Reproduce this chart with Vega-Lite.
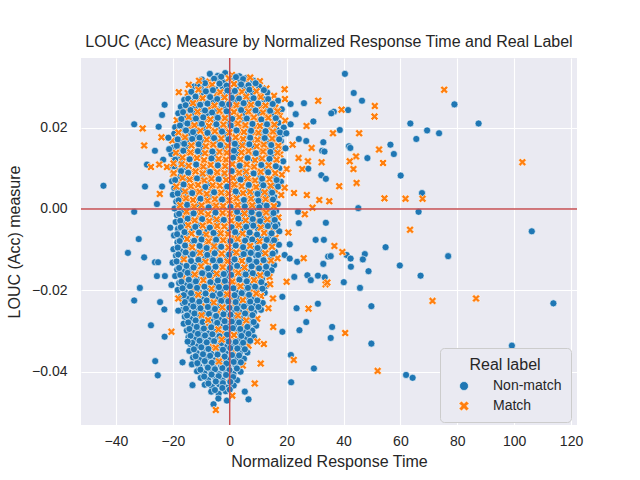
{
"$schema": "https://vega.github.io/schema/vega-lite/v6.json",
"width": 496, "height": 367,
"autosize": {"type": "none"},
"padding": {"left": 81, "top": 58, "right": 63, "bottom": 55},
"background": "white",
"title": {"text": "LOUC (Acc) Measure by Normalized Response Time and Real Label", "fontSize": 16, "font": "Liberation Sans", "fontWeight": "normal", "color": "#262626", "offset": 7},
"config": {
  "view": {"fill": "#eaeaf2", "stroke": null},
  "axis": {"domain": false, "ticks": false, "gridColor": "white", "gridWidth": 1.1, "labelFont": "Liberation Sans", "labelFontSize": 14, "labelColor": "#262626", "titleFont": "Liberation Sans", "titleFontSize": 16, "titleFontWeight": "normal", "titleColor": "#262626"},
  "legend": {"orient": "none", "legendX": 359, "legendY": 290, "fillColor": "#eaeaf2", "strokeColor": "#cccccc", "cornerRadius": 4, "padding": 9, "titleFont": "Liberation Sans", "titleFontSize": 16, "titleFontWeight": "normal", "titleColor": "#262626", "titleAnchor": "middle", "titlePadding": 6, "labelFont": "Liberation Sans", "labelFontSize": 14, "labelColor": "#262626", "symbolSize": 80, "symbolStrokeColor": "white", "symbolStrokeWidth": 0.6, "rowPadding": 6, "labelOffset": 22, "symbolOffset": 8}
},
"datasets": {
"refs": [{"ref": 0}],
"points": [
{"t":-7.0,"v":0.0332,"label":"Non-match"},{"t":-4.2,"v":0.0327,"label":"Non-match"},{"t":-1.6,"v":0.0334,"label":"Non-match"},{"t":0.8,"v":0.0329,"label":"Match"},{"t":3.4,"v":0.0326,"label":"Non-match"},{"t":5.9,"v":0.0322,"label":"Non-match"},
{"t":-9.8,"v":0.0318,"label":"Non-match"},{"t":-7.2,"v":0.0313,"label":"Match"},{"t":-4.6,"v":0.0319,"label":"Non-match"},{"t":-2.0,"v":0.0311,"label":"Non-match"},{"t":0.6,"v":0.0316,"label":"Non-match"},{"t":3.1,"v":0.0312,"label":"Non-match"},{"t":5.7,"v":0.0317,"label":"Match"},{"t":8.3,"v":0.0315,"label":"Non-match"},{"t":10.6,"v":0.0314,"label":"Match"},
{"t":-12.6,"v":0.0301,"label":"Non-match"},{"t":-10.1,"v":0.0296,"label":"Non-match"},{"t":-7.5,"v":0.0302,"label":"Match"},{"t":-5.0,"v":0.0294,"label":"Non-match"},{"t":-2.4,"v":0.0299,"label":"Non-match"},{"t":0.1,"v":0.0295,"label":"Match"},{"t":2.7,"v":0.0300,"label":"Non-match"},{"t":5.2,"v":0.0298,"label":"Non-match"},{"t":7.8,"v":0.0297,"label":"Match"},{"t":10.3,"v":0.0301,"label":"Non-match"},{"t":12.9,"v":0.0296,"label":"Match"},
{"t":-14.8,"v":0.0285,"label":"Match"},{"t":-12.3,"v":0.0280,"label":"Non-match"},{"t":-9.7,"v":0.0286,"label":"Non-match"},{"t":-7.2,"v":0.0278,"label":"Non-match"},{"t":-4.6,"v":0.0283,"label":"Match"},{"t":-2.1,"v":0.0279,"label":"Non-match"},{"t":0.5,"v":0.0284,"label":"Non-match"},{"t":3.0,"v":0.0282,"label":"Match"},{"t":5.6,"v":0.0281,"label":"Non-match"},{"t":8.1,"v":0.0285,"label":"Non-match"},{"t":10.7,"v":0.0280,"label":"Match"},{"t":13.2,"v":0.0286,"label":"Non-match"},{"t":15.6,"v":0.0278,"label":"Match"},
{"t":-16.0,"v":0.0268,"label":"Non-match"},{"t":-13.4,"v":0.0263,"label":"Non-match"},{"t":-10.9,"v":0.0269,"label":"Match"},{"t":-8.3,"v":0.0261,"label":"Non-match"},{"t":-5.8,"v":0.0266,"label":"Non-match"},{"t":-3.2,"v":0.0262,"label":"Non-match"},{"t":-0.7,"v":0.0267,"label":"Match"},{"t":1.9,"v":0.0265,"label":"Non-match"},{"t":4.4,"v":0.0264,"label":"Match"},{"t":7.0,"v":0.0268,"label":"Non-match"},{"t":9.5,"v":0.0263,"label":"Match"},{"t":12.1,"v":0.0269,"label":"Non-match"},{"t":14.6,"v":0.0261,"label":"Match"},{"t":17.0,"v":0.0266,"label":"Non-match"},
{"t":-17.2,"v":0.0251,"label":"Non-match"},{"t":-14.6,"v":0.0246,"label":"Match"},{"t":-12.1,"v":0.0252,"label":"Non-match"},{"t":-9.5,"v":0.0244,"label":"Non-match"},{"t":-7.0,"v":0.0249,"label":"Match"},{"t":-4.4,"v":0.0245,"label":"Non-match"},{"t":-1.9,"v":0.0250,"label":"Non-match"},{"t":0.7,"v":0.0248,"label":"Match"},{"t":3.2,"v":0.0247,"label":"Non-match"},{"t":5.8,"v":0.0251,"label":"Match"},{"t":8.3,"v":0.0246,"label":"Non-match"},{"t":10.9,"v":0.0252,"label":"Match"},{"t":13.4,"v":0.0244,"label":"Non-match"},{"t":16.0,"v":0.0249,"label":"Match"},{"t":18.3,"v":0.0245,"label":"Non-match"},
{"t":-18.1,"v":0.0235,"label":"Non-match"},{"t":-15.5,"v":0.0230,"label":"Non-match"},{"t":-13.0,"v":0.0236,"label":"Non-match"},{"t":-10.4,"v":0.0228,"label":"Match"},{"t":-7.9,"v":0.0233,"label":"Non-match"},{"t":-5.3,"v":0.0229,"label":"Non-match"},{"t":-2.8,"v":0.0234,"label":"Match"},{"t":-0.2,"v":0.0232,"label":"Non-match"},{"t":2.3,"v":0.0231,"label":"Match"},{"t":4.9,"v":0.0235,"label":"Non-match"},{"t":7.4,"v":0.0230,"label":"Match"},{"t":10.0,"v":0.0236,"label":"Non-match"},{"t":12.5,"v":0.0228,"label":"Match"},{"t":15.1,"v":0.0233,"label":"Non-match"},{"t":17.6,"v":0.0229,"label":"Match"},
{"t":-18.6,"v":0.0218,"label":"Match"},{"t":-16.0,"v":0.0213,"label":"Non-match"},{"t":-13.5,"v":0.0219,"label":"Non-match"},{"t":-10.9,"v":0.0211,"label":"Non-match"},{"t":-8.4,"v":0.0216,"label":"Match"},{"t":-5.8,"v":0.0212,"label":"Non-match"},{"t":-3.3,"v":0.0217,"label":"Match"},{"t":-0.7,"v":0.0215,"label":"Non-match"},{"t":1.8,"v":0.0214,"label":"Match"},{"t":4.4,"v":0.0218,"label":"Non-match"},{"t":6.9,"v":0.0213,"label":"Match"},{"t":9.5,"v":0.0219,"label":"Match"},{"t":12.0,"v":0.0211,"label":"Non-match"},{"t":14.6,"v":0.0216,"label":"Match"},{"t":17.1,"v":0.0212,"label":"Non-match"},{"t":19.5,"v":0.0217,"label":"Match"},
{"t":-19.2,"v":0.0201,"label":"Non-match"},{"t":-16.6,"v":0.0196,"label":"Non-match"},{"t":-14.1,"v":0.0202,"label":"Match"},{"t":-11.5,"v":0.0194,"label":"Non-match"},{"t":-9.0,"v":0.0199,"label":"Non-match"},{"t":-6.4,"v":0.0195,"label":"Match"},{"t":-3.9,"v":0.0200,"label":"Non-match"},{"t":-1.3,"v":0.0198,"label":"Match"},{"t":1.2,"v":0.0197,"label":"Non-match"},{"t":3.8,"v":0.0201,"label":"Match"},{"t":6.3,"v":0.0196,"label":"Non-match"},{"t":8.9,"v":0.0202,"label":"Match"},{"t":11.4,"v":0.0194,"label":"Non-match"},{"t":14.0,"v":0.0199,"label":"Match"},{"t":16.5,"v":0.0195,"label":"Non-match"},{"t":19.0,"v":0.0200,"label":"Non-match"},
{"t":-19.5,"v":0.0185,"label":"Non-match"},{"t":-16.9,"v":0.0180,"label":"Match"},{"t":-14.4,"v":0.0186,"label":"Non-match"},{"t":-11.8,"v":0.0178,"label":"Non-match"},{"t":-9.3,"v":0.0183,"label":"Match"},{"t":-6.7,"v":0.0179,"label":"Non-match"},{"t":-4.2,"v":0.0184,"label":"Match"},{"t":-1.6,"v":0.0182,"label":"Non-match"},{"t":0.9,"v":0.0181,"label":"Match"},{"t":3.5,"v":0.0185,"label":"Match"},{"t":6.0,"v":0.0180,"label":"Non-match"},{"t":8.6,"v":0.0186,"label":"Match"},{"t":11.1,"v":0.0178,"label":"Non-match"},{"t":13.7,"v":0.0183,"label":"Match"},{"t":16.2,"v":0.0179,"label":"Match"},{"t":18.6,"v":0.0184,"label":"Non-match"},
{"t":-20.2,"v":0.0168,"label":"Match"},{"t":-17.6,"v":0.0163,"label":"Non-match"},{"t":-15.1,"v":0.0169,"label":"Non-match"},{"t":-12.5,"v":0.0161,"label":"Match"},{"t":-10.0,"v":0.0166,"label":"Non-match"},{"t":-7.4,"v":0.0162,"label":"Match"},{"t":-4.9,"v":0.0167,"label":"Non-match"},{"t":-2.3,"v":0.0165,"label":"Match"},{"t":0.2,"v":0.0164,"label":"Non-match"},{"t":2.8,"v":0.0168,"label":"Match"},{"t":5.3,"v":0.0163,"label":"Non-match"},{"t":7.9,"v":0.0169,"label":"Match"},{"t":10.4,"v":0.0161,"label":"Match"},{"t":13.0,"v":0.0166,"label":"Non-match"},{"t":15.5,"v":0.0162,"label":"Match"},{"t":18.0,"v":0.0167,"label":"Non-match"},
{"t":-19.8,"v":0.0151,"label":"Non-match"},{"t":-17.2,"v":0.0146,"label":"Match"},{"t":-14.7,"v":0.0152,"label":"Non-match"},{"t":-12.1,"v":0.0144,"label":"Match"},{"t":-9.6,"v":0.0149,"label":"Non-match"},{"t":-7.0,"v":0.0145,"label":"Match"},{"t":-4.5,"v":0.0150,"label":"Match"},{"t":-1.9,"v":0.0148,"label":"Non-match"},{"t":0.6,"v":0.0147,"label":"Match"},{"t":3.2,"v":0.0151,"label":"Non-match"},{"t":5.7,"v":0.0146,"label":"Match"},{"t":8.3,"v":0.0152,"label":"Non-match"},{"t":10.8,"v":0.0144,"label":"Match"},{"t":13.4,"v":0.0149,"label":"Match"},{"t":15.9,"v":0.0145,"label":"Non-match"},{"t":18.3,"v":0.0150,"label":"Match"},
{"t":-20.5,"v":0.0135,"label":"Non-match"},{"t":-17.9,"v":0.0130,"label":"Non-match"},{"t":-15.4,"v":0.0136,"label":"Match"},{"t":-12.8,"v":0.0128,"label":"Match"},{"t":-10.3,"v":0.0133,"label":"Non-match"},{"t":-7.7,"v":0.0129,"label":"Match"},{"t":-5.2,"v":0.0134,"label":"Non-match"},{"t":-2.6,"v":0.0132,"label":"Match"},{"t":-0.1,"v":0.0131,"label":"Match"},{"t":2.5,"v":0.0135,"label":"Non-match"},{"t":5.0,"v":0.0130,"label":"Match"},{"t":7.6,"v":0.0136,"label":"Match"},{"t":10.1,"v":0.0128,"label":"Non-match"},{"t":12.7,"v":0.0133,"label":"Match"},{"t":15.2,"v":0.0129,"label":"Non-match"},{"t":17.7,"v":0.0134,"label":"Match"},
{"t":-19.6,"v":0.0118,"label":"Match"},{"t":-17.0,"v":0.0113,"label":"Non-match"},{"t":-14.5,"v":0.0119,"label":"Match"},{"t":-11.9,"v":0.0111,"label":"Non-match"},{"t":-9.4,"v":0.0116,"label":"Match"},{"t":-6.8,"v":0.0112,"label":"Match"},{"t":-4.3,"v":0.0117,"label":"Non-match"},{"t":-1.7,"v":0.0115,"label":"Match"},{"t":0.8,"v":0.0114,"label":"Non-match"},{"t":3.4,"v":0.0118,"label":"Match"},{"t":5.9,"v":0.0113,"label":"Match"},{"t":8.5,"v":0.0119,"label":"Non-match"},{"t":11.0,"v":0.0111,"label":"Match"},{"t":13.6,"v":0.0116,"label":"Non-match"},{"t":16.1,"v":0.0112,"label":"Match"},{"t":18.8,"v":0.0117,"label":"Non-match"},
{"t":-20.8,"v":0.0101,"label":"Non-match"},{"t":-18.2,"v":0.0096,"label":"Match"},{"t":-15.7,"v":0.0102,"label":"Non-match"},{"t":-13.1,"v":0.0094,"label":"Match"},{"t":-10.6,"v":0.0099,"label":"Match"},{"t":-8.0,"v":0.0095,"label":"Non-match"},{"t":-5.5,"v":0.0100,"label":"Match"},{"t":-2.9,"v":0.0098,"label":"Match"},{"t":-0.4,"v":0.0097,"label":"Non-match"},{"t":2.2,"v":0.0101,"label":"Match"},{"t":4.7,"v":0.0096,"label":"Non-match"},{"t":7.3,"v":0.0102,"label":"Match"},{"t":9.8,"v":0.0094,"label":"Match"},{"t":12.4,"v":0.0099,"label":"Non-match"},{"t":14.9,"v":0.0095,"label":"Match"},{"t":17.4,"v":0.0100,"label":"Non-match"},{"t":20.0,"v":0.0098,"label":"Match"},
{"t":-19.9,"v":0.0085,"label":"Match"},{"t":-17.3,"v":0.0080,"label":"Non-match"},{"t":-14.8,"v":0.0086,"label":"Match"},{"t":-12.2,"v":0.0078,"label":"Match"},{"t":-9.7,"v":0.0083,"label":"Non-match"},{"t":-7.1,"v":0.0079,"label":"Match"},{"t":-4.6,"v":0.0084,"label":"Match"},{"t":-2.0,"v":0.0082,"label":"Non-match"},{"t":0.5,"v":0.0081,"label":"Match"},{"t":3.1,"v":0.0085,"label":"Match"},{"t":5.6,"v":0.0080,"label":"Non-match"},{"t":8.2,"v":0.0086,"label":"Match"},{"t":10.7,"v":0.0078,"label":"Non-match"},{"t":13.3,"v":0.0083,"label":"Match"},{"t":15.8,"v":0.0079,"label":"Non-match"},{"t":18.3,"v":0.0084,"label":"Match"},
{"t":-20.3,"v":0.0068,"label":"Non-match"},{"t":-17.7,"v":0.0063,"label":"Match"},{"t":-15.2,"v":0.0069,"label":"Non-match"},{"t":-12.6,"v":0.0061,"label":"Match"},{"t":-10.1,"v":0.0066,"label":"Match"},{"t":-7.5,"v":0.0062,"label":"Non-match"},{"t":-5.0,"v":0.0067,"label":"Match"},{"t":-2.4,"v":0.0065,"label":"Match"},{"t":0.1,"v":0.0064,"label":"Match"},{"t":2.7,"v":0.0068,"label":"Non-match"},{"t":5.2,"v":0.0063,"label":"Match"},{"t":7.8,"v":0.0069,"label":"Match"},{"t":10.3,"v":0.0061,"label":"Non-match"},{"t":12.9,"v":0.0066,"label":"Match"},{"t":15.4,"v":0.0062,"label":"Non-match"},{"t":18.0,"v":0.0067,"label":"Non-match"},
{"t":-19.5,"v":0.0051,"label":"Non-match"},{"t":-16.9,"v":0.0046,"label":"Non-match"},{"t":-14.4,"v":0.0052,"label":"Match"},{"t":-11.8,"v":0.0044,"label":"Match"},{"t":-9.3,"v":0.0049,"label":"Non-match"},{"t":-6.7,"v":0.0045,"label":"Match"},{"t":-4.2,"v":0.0050,"label":"Match"},{"t":-1.6,"v":0.0048,"label":"Non-match"},{"t":0.9,"v":0.0047,"label":"Match"},{"t":3.5,"v":0.0051,"label":"Match"},{"t":6.0,"v":0.0046,"label":"Non-match"},{"t":8.6,"v":0.0052,"label":"Match"},{"t":11.1,"v":0.0044,"label":"Non-match"},{"t":13.7,"v":0.0049,"label":"Non-match"},{"t":16.2,"v":0.0045,"label":"Match"},
{"t":-20.0,"v":0.0035,"label":"Non-match"},{"t":-17.4,"v":0.0030,"label":"Match"},{"t":-14.9,"v":0.0036,"label":"Non-match"},{"t":-12.3,"v":0.0028,"label":"Match"},{"t":-9.8,"v":0.0033,"label":"Match"},{"t":-7.2,"v":0.0029,"label":"Non-match"},{"t":-4.7,"v":0.0034,"label":"Match"},{"t":-2.1,"v":0.0032,"label":"Match"},{"t":0.4,"v":0.0031,"label":"Match"},{"t":3.0,"v":0.0035,"label":"Non-match"},{"t":5.5,"v":0.0030,"label":"Match"},{"t":8.1,"v":0.0036,"label":"Non-match"},{"t":10.6,"v":0.0028,"label":"Match"},{"t":13.2,"v":0.0033,"label":"Non-match"},{"t":15.7,"v":0.0029,"label":"Non-match"},{"t":18.1,"v":0.0034,"label":"Match"},
{"t":-18.8,"v":0.0018,"label":"Non-match"},{"t":-16.2,"v":0.0013,"label":"Match"},{"t":-13.7,"v":0.0019,"label":"Match"},{"t":-11.1,"v":0.0011,"label":"Non-match"},{"t":-8.6,"v":0.0016,"label":"Match"},{"t":-6.0,"v":0.0012,"label":"Match"},{"t":-3.5,"v":0.0017,"label":"Non-match"},{"t":-0.9,"v":0.0015,"label":"Match"},{"t":1.6,"v":0.0014,"label":"Match"},{"t":4.2,"v":0.0018,"label":"Non-match"},{"t":6.7,"v":0.0013,"label":"Match"},{"t":9.3,"v":0.0019,"label":"Non-match"},{"t":11.8,"v":0.0011,"label":"Non-match"},{"t":14.4,"v":0.0016,"label":"Match"},{"t":16.9,"v":0.0012,"label":"Non-match"},
{"t":-19.4,"v":0.0001,"label":"Non-match"},{"t":-16.8,"v":-0.0004,"label":"Non-match"},{"t":-14.3,"v":0.0002,"label":"Match"},{"t":-11.7,"v":-0.0006,"label":"Match"},{"t":-9.2,"v":-0.0001,"label":"Non-match"},{"t":-6.6,"v":-0.0005,"label":"Match"},{"t":-4.1,"v":0.0000,"label":"Match"},{"t":-1.5,"v":-0.0002,"label":"Match"},{"t":1.0,"v":-0.0003,"label":"Non-match"},{"t":3.6,"v":0.0001,"label":"Match"},{"t":6.1,"v":-0.0004,"label":"Non-match"},{"t":8.7,"v":0.0002,"label":"Non-match"},{"t":11.2,"v":-0.0006,"label":"Match"},{"t":13.8,"v":-0.0001,"label":"Non-match"},{"t":16.3,"v":-0.0005,"label":"Non-match"},
{"t":-18.6,"v":-0.0015,"label":"Non-match"},{"t":-16.0,"v":-0.0020,"label":"Match"},{"t":-13.5,"v":-0.0014,"label":"Non-match"},{"t":-10.9,"v":-0.0022,"label":"Match"},{"t":-8.4,"v":-0.0017,"label":"Match"},{"t":-5.8,"v":-0.0021,"label":"Non-match"},{"t":-3.3,"v":-0.0016,"label":"Match"},{"t":-0.7,"v":-0.0018,"label":"Match"},{"t":1.8,"v":-0.0019,"label":"Match"},{"t":4.4,"v":-0.0015,"label":"Non-match"},{"t":6.9,"v":-0.0020,"label":"Non-match"},{"t":9.5,"v":-0.0014,"label":"Match"},{"t":12.0,"v":-0.0022,"label":"Non-match"},{"t":14.6,"v":-0.0017,"label":"Non-match"},{"t":17.1,"v":-0.0021,"label":"Match"},
{"t":-19.0,"v":-0.0032,"label":"Non-match"},{"t":-16.4,"v":-0.0037,"label":"Non-match"},{"t":-13.9,"v":-0.0031,"label":"Match"},{"t":-11.3,"v":-0.0039,"label":"Non-match"},{"t":-8.8,"v":-0.0034,"label":"Match"},{"t":-6.2,"v":-0.0038,"label":"Match"},{"t":-3.7,"v":-0.0033,"label":"Non-match"},{"t":-1.1,"v":-0.0035,"label":"Match"},{"t":1.4,"v":-0.0036,"label":"Match"},{"t":4.0,"v":-0.0032,"label":"Non-match"},{"t":6.5,"v":-0.0037,"label":"Non-match"},{"t":9.1,"v":-0.0031,"label":"Match"},{"t":11.6,"v":-0.0039,"label":"Non-match"},{"t":14.2,"v":-0.0034,"label":"Non-match"},{"t":16.7,"v":-0.0038,"label":"Non-match"},
{"t":-18.2,"v":-0.0049,"label":"Non-match"},{"t":-15.6,"v":-0.0054,"label":"Match"},{"t":-13.1,"v":-0.0048,"label":"Non-match"},{"t":-10.5,"v":-0.0056,"label":"Match"},{"t":-8.0,"v":-0.0051,"label":"Non-match"},{"t":-5.4,"v":-0.0055,"label":"Match"},{"t":-2.9,"v":-0.0050,"label":"Match"},{"t":-0.3,"v":-0.0052,"label":"Non-match"},{"t":2.2,"v":-0.0053,"label":"Match"},{"t":4.8,"v":-0.0049,"label":"Non-match"},{"t":7.3,"v":-0.0054,"label":"Match"},{"t":9.9,"v":-0.0048,"label":"Non-match"},{"t":12.4,"v":-0.0056,"label":"Non-match"},{"t":15.0,"v":-0.0051,"label":"Match"},{"t":17.4,"v":-0.0055,"label":"Non-match"},
{"t":-19.6,"v":-0.0065,"label":"Non-match"},{"t":-17.0,"v":-0.0070,"label":"Non-match"},{"t":-14.5,"v":-0.0064,"label":"Non-match"},{"t":-11.9,"v":-0.0072,"label":"Match"},{"t":-9.4,"v":-0.0067,"label":"Non-match"},{"t":-6.8,"v":-0.0071,"label":"Match"},{"t":-4.3,"v":-0.0066,"label":"Non-match"},{"t":-1.7,"v":-0.0068,"label":"Match"},{"t":0.8,"v":-0.0069,"label":"Match"},{"t":3.4,"v":-0.0065,"label":"Non-match"},{"t":5.9,"v":-0.0070,"label":"Non-match"},{"t":8.5,"v":-0.0064,"label":"Match"},{"t":11.0,"v":-0.0072,"label":"Non-match"},{"t":13.6,"v":-0.0067,"label":"Non-match"},{"t":16.1,"v":-0.0071,"label":"Match"},
{"t":-18.4,"v":-0.0082,"label":"Non-match"},{"t":-15.8,"v":-0.0087,"label":"Match"},{"t":-13.3,"v":-0.0081,"label":"Non-match"},{"t":-10.7,"v":-0.0089,"label":"Non-match"},{"t":-8.2,"v":-0.0084,"label":"Match"},{"t":-5.6,"v":-0.0088,"label":"Non-match"},{"t":-3.1,"v":-0.0083,"label":"Match"},{"t":-0.5,"v":-0.0085,"label":"Match"},{"t":2.0,"v":-0.0086,"label":"Non-match"},{"t":4.6,"v":-0.0082,"label":"Match"},{"t":7.1,"v":-0.0087,"label":"Non-match"},{"t":9.7,"v":-0.0081,"label":"Non-match"},{"t":12.2,"v":-0.0089,"label":"Match"},{"t":14.8,"v":-0.0084,"label":"Non-match"},{"t":17.3,"v":-0.0088,"label":"Non-match"},
{"t":-19.8,"v":-0.0099,"label":"Non-match"},{"t":-17.2,"v":-0.0104,"label":"Non-match"},{"t":-14.7,"v":-0.0098,"label":"Match"},{"t":-12.1,"v":-0.0106,"label":"Non-match"},{"t":-9.6,"v":-0.0101,"label":"Non-match"},{"t":-7.0,"v":-0.0105,"label":"Match"},{"t":-4.5,"v":-0.0100,"label":"Non-match"},{"t":-1.9,"v":-0.0102,"label":"Match"},{"t":0.6,"v":-0.0103,"label":"Non-match"},{"t":3.2,"v":-0.0099,"label":"Match"},{"t":5.7,"v":-0.0104,"label":"Non-match"},{"t":8.3,"v":-0.0098,"label":"Non-match"},{"t":10.8,"v":-0.0106,"label":"Non-match"},{"t":13.4,"v":-0.0101,"label":"Match"},{"t":15.9,"v":-0.0105,"label":"Non-match"},
{"t":-18.9,"v":-0.0115,"label":"Non-match"},{"t":-16.3,"v":-0.0120,"label":"Non-match"},{"t":-13.8,"v":-0.0114,"label":"Non-match"},{"t":-11.2,"v":-0.0122,"label":"Match"},{"t":-8.7,"v":-0.0117,"label":"Non-match"},{"t":-6.1,"v":-0.0121,"label":"Non-match"},{"t":-3.6,"v":-0.0116,"label":"Match"},{"t":-1.0,"v":-0.0118,"label":"Non-match"},{"t":1.5,"v":-0.0119,"label":"Match"},{"t":4.1,"v":-0.0115,"label":"Non-match"},{"t":6.6,"v":-0.0120,"label":"Match"},{"t":9.2,"v":-0.0114,"label":"Non-match"},{"t":11.7,"v":-0.0122,"label":"Non-match"},{"t":14.3,"v":-0.0117,"label":"Non-match"},{"t":16.8,"v":-0.0121,"label":"Match"},
{"t":-20.1,"v":-0.0132,"label":"Non-match"},{"t":-17.5,"v":-0.0137,"label":"Non-match"},{"t":-15.0,"v":-0.0131,"label":"Match"},{"t":-12.4,"v":-0.0139,"label":"Non-match"},{"t":-9.9,"v":-0.0134,"label":"Non-match"},{"t":-7.3,"v":-0.0138,"label":"Match"},{"t":-4.8,"v":-0.0133,"label":"Non-match"},{"t":-2.2,"v":-0.0135,"label":"Match"},{"t":0.3,"v":-0.0136,"label":"Non-match"},{"t":2.9,"v":-0.0132,"label":"Match"},{"t":5.4,"v":-0.0137,"label":"Non-match"},{"t":8.0,"v":-0.0131,"label":"Non-match"},{"t":10.5,"v":-0.0139,"label":"Match"},{"t":13.1,"v":-0.0134,"label":"Non-match"},{"t":15.6,"v":-0.0138,"label":"Non-match"},
{"t":-18.5,"v":-0.0149,"label":"Non-match"},{"t":-15.9,"v":-0.0154,"label":"Non-match"},{"t":-13.4,"v":-0.0148,"label":"Non-match"},{"t":-10.8,"v":-0.0156,"label":"Match"},{"t":-8.3,"v":-0.0151,"label":"Non-match"},{"t":-5.7,"v":-0.0155,"label":"Non-match"},{"t":-3.2,"v":-0.0150,"label":"Match"},{"t":-0.6,"v":-0.0152,"label":"Non-match"},{"t":1.9,"v":-0.0153,"label":"Match"},{"t":4.5,"v":-0.0149,"label":"Non-match"},{"t":7.0,"v":-0.0154,"label":"Non-match"},{"t":9.6,"v":-0.0148,"label":"Match"},{"t":12.1,"v":-0.0156,"label":"Non-match"},{"t":14.7,"v":-0.0151,"label":"Non-match"},
{"t":-19.2,"v":-0.0165,"label":"Non-match"},{"t":-16.6,"v":-0.0170,"label":"Match"},{"t":-14.1,"v":-0.0164,"label":"Non-match"},{"t":-11.5,"v":-0.0172,"label":"Non-match"},{"t":-9.0,"v":-0.0167,"label":"Non-match"},{"t":-6.4,"v":-0.0171,"label":"Match"},{"t":-3.9,"v":-0.0166,"label":"Non-match"},{"t":-1.3,"v":-0.0168,"label":"Non-match"},{"t":1.2,"v":-0.0169,"label":"Match"},{"t":3.8,"v":-0.0165,"label":"Non-match"},{"t":6.3,"v":-0.0170,"label":"Match"},{"t":8.9,"v":-0.0164,"label":"Non-match"},{"t":11.4,"v":-0.0172,"label":"Non-match"},{"t":14.0,"v":-0.0167,"label":"Match"},
{"t":-17.8,"v":-0.0182,"label":"Non-match"},{"t":-15.2,"v":-0.0187,"label":"Non-match"},{"t":-12.7,"v":-0.0181,"label":"Non-match"},{"t":-10.1,"v":-0.0189,"label":"Match"},{"t":-7.6,"v":-0.0184,"label":"Non-match"},{"t":-5.0,"v":-0.0188,"label":"Non-match"},{"t":-2.5,"v":-0.0183,"label":"Match"},{"t":0.1,"v":-0.0185,"label":"Non-match"},{"t":2.6,"v":-0.0186,"label":"Match"},{"t":5.2,"v":-0.0182,"label":"Non-match"},{"t":7.7,"v":-0.0187,"label":"Non-match"},{"t":10.3,"v":-0.0181,"label":"Match"},{"t":12.8,"v":-0.0189,"label":"Non-match"},
{"t":-18.3,"v":-0.0199,"label":"Non-match"},{"t":-15.7,"v":-0.0204,"label":"Non-match"},{"t":-13.2,"v":-0.0198,"label":"Match"},{"t":-10.6,"v":-0.0206,"label":"Non-match"},{"t":-8.1,"v":-0.0201,"label":"Non-match"},{"t":-5.5,"v":-0.0205,"label":"Non-match"},{"t":-3.0,"v":-0.0200,"label":"Non-match"},{"t":-0.4,"v":-0.0202,"label":"Match"},{"t":2.1,"v":-0.0203,"label":"Non-match"},{"t":4.7,"v":-0.0199,"label":"Non-match"},{"t":7.2,"v":-0.0204,"label":"Match"},{"t":9.8,"v":-0.0198,"label":"Non-match"},{"t":12.3,"v":-0.0206,"label":"Non-match"},
{"t":-17.1,"v":-0.0215,"label":"Non-match"},{"t":-14.5,"v":-0.0220,"label":"Non-match"},{"t":-12.0,"v":-0.0214,"label":"Non-match"},{"t":-9.4,"v":-0.0222,"label":"Non-match"},{"t":-6.9,"v":-0.0217,"label":"Match"},{"t":-4.3,"v":-0.0221,"label":"Non-match"},{"t":-1.8,"v":-0.0216,"label":"Non-match"},{"t":0.8,"v":-0.0218,"label":"Match"},{"t":3.3,"v":-0.0219,"label":"Non-match"},{"t":5.9,"v":-0.0215,"label":"Non-match"},{"t":8.4,"v":-0.0220,"label":"Non-match"},{"t":11.0,"v":-0.0214,"label":"Match"},
{"t":-16.4,"v":-0.0232,"label":"Non-match"},{"t":-13.8,"v":-0.0237,"label":"Non-match"},{"t":-11.3,"v":-0.0231,"label":"Non-match"},{"t":-8.7,"v":-0.0239,"label":"Match"},{"t":-6.2,"v":-0.0234,"label":"Non-match"},{"t":-3.6,"v":-0.0238,"label":"Non-match"},{"t":-1.1,"v":-0.0233,"label":"Non-match"},{"t":1.5,"v":-0.0235,"label":"Match"},{"t":4.0,"v":-0.0236,"label":"Non-match"},{"t":6.6,"v":-0.0232,"label":"Non-match"},{"t":9.1,"v":-0.0237,"label":"Non-match"},{"t":11.6,"v":-0.0231,"label":"Non-match"},
{"t":-17.0,"v":-0.0249,"label":"Non-match"},{"t":-14.4,"v":-0.0254,"label":"Non-match"},{"t":-11.9,"v":-0.0248,"label":"Non-match"},{"t":-9.3,"v":-0.0256,"label":"Non-match"},{"t":-6.8,"v":-0.0251,"label":"Non-match"},{"t":-4.2,"v":-0.0255,"label":"Match"},{"t":-1.7,"v":-0.0250,"label":"Non-match"},{"t":0.9,"v":-0.0252,"label":"Non-match"},{"t":3.4,"v":-0.0253,"label":"Non-match"},{"t":6.0,"v":-0.0249,"label":"Match"},{"t":8.5,"v":-0.0254,"label":"Non-match"},{"t":11.0,"v":-0.0248,"label":"Non-match"},
{"t":-15.8,"v":-0.0265,"label":"Non-match"},{"t":-13.2,"v":-0.0270,"label":"Non-match"},{"t":-10.7,"v":-0.0264,"label":"Non-match"},{"t":-8.1,"v":-0.0272,"label":"Non-match"},{"t":-5.6,"v":-0.0267,"label":"Non-match"},{"t":-3.0,"v":-0.0271,"label":"Non-match"},{"t":-0.5,"v":-0.0266,"label":"Match"},{"t":2.1,"v":-0.0268,"label":"Non-match"},{"t":4.6,"v":-0.0269,"label":"Non-match"},{"t":7.2,"v":-0.0265,"label":"Non-match"},{"t":9.7,"v":-0.0270,"label":"Match"},
{"t":-16.2,"v":-0.0282,"label":"Non-match"},{"t":-13.6,"v":-0.0287,"label":"Non-match"},{"t":-11.1,"v":-0.0281,"label":"Non-match"},{"t":-8.5,"v":-0.0289,"label":"Match"},{"t":-6.0,"v":-0.0284,"label":"Non-match"},{"t":-3.4,"v":-0.0288,"label":"Non-match"},{"t":-0.9,"v":-0.0283,"label":"Non-match"},{"t":1.7,"v":-0.0285,"label":"Non-match"},{"t":4.2,"v":-0.0286,"label":"Match"},{"t":6.8,"v":-0.0282,"label":"Non-match"},{"t":9.3,"v":-0.0287,"label":"Non-match"},
{"t":-15.1,"v":-0.0299,"label":"Non-match"},{"t":-12.5,"v":-0.0304,"label":"Non-match"},{"t":-10.0,"v":-0.0298,"label":"Non-match"},{"t":-7.4,"v":-0.0306,"label":"Non-match"},{"t":-4.9,"v":-0.0301,"label":"Non-match"},{"t":-2.3,"v":-0.0305,"label":"Match"},{"t":0.2,"v":-0.0300,"label":"Non-match"},{"t":2.8,"v":-0.0302,"label":"Non-match"},{"t":5.3,"v":-0.0303,"label":"Non-match"},{"t":7.9,"v":-0.0299,"label":"Non-match"},
{"t":-14.5,"v":-0.0315,"label":"Non-match"},{"t":-11.9,"v":-0.0320,"label":"Non-match"},{"t":-9.4,"v":-0.0314,"label":"Non-match"},{"t":-6.8,"v":-0.0322,"label":"Non-match"},{"t":-4.3,"v":-0.0317,"label":"Non-match"},{"t":-1.7,"v":-0.0321,"label":"Non-match"},{"t":0.8,"v":-0.0316,"label":"Match"},{"t":3.4,"v":-0.0318,"label":"Non-match"},{"t":5.9,"v":-0.0319,"label":"Non-match"},{"t":8.5,"v":-0.0315,"label":"Non-match"},
{"t":-13.8,"v":-0.0332,"label":"Non-match"},{"t":-11.2,"v":-0.0337,"label":"Non-match"},{"t":-8.7,"v":-0.0331,"label":"Non-match"},{"t":-6.1,"v":-0.0339,"label":"Match"},{"t":-3.6,"v":-0.0334,"label":"Non-match"},{"t":-1.0,"v":-0.0338,"label":"Non-match"},{"t":1.5,"v":-0.0333,"label":"Non-match"},{"t":4.1,"v":-0.0335,"label":"Non-match"},{"t":6.6,"v":-0.0336,"label":"Match"},
{"t":-14.2,"v":-0.0349,"label":"Non-match"},{"t":-11.6,"v":-0.0354,"label":"Non-match"},{"t":-9.1,"v":-0.0348,"label":"Non-match"},{"t":-6.5,"v":-0.0356,"label":"Non-match"},{"t":-4.0,"v":-0.0351,"label":"Non-match"},{"t":-1.4,"v":-0.0355,"label":"Non-match"},{"t":1.1,"v":-0.0350,"label":"Match"},{"t":3.7,"v":-0.0352,"label":"Non-match"},{"t":6.2,"v":-0.0353,"label":"Non-match"},
{"t":-12.9,"v":-0.0365,"label":"Non-match"},{"t":-10.3,"v":-0.0370,"label":"Non-match"},{"t":-7.8,"v":-0.0364,"label":"Non-match"},{"t":-5.2,"v":-0.0372,"label":"Non-match"},{"t":-2.7,"v":-0.0367,"label":"Match"},{"t":-0.1,"v":-0.0371,"label":"Non-match"},{"t":2.4,"v":-0.0366,"label":"Non-match"},{"t":5.0,"v":-0.0368,"label":"Non-match"},
{"t":-13.3,"v":-0.0382,"label":"Non-match"},{"t":-10.7,"v":-0.0387,"label":"Non-match"},{"t":-8.2,"v":-0.0381,"label":"Non-match"},{"t":-5.6,"v":-0.0389,"label":"Non-match"},{"t":-3.1,"v":-0.0384,"label":"Non-match"},{"t":-0.5,"v":-0.0388,"label":"Non-match"},{"t":2.0,"v":-0.0383,"label":"Non-match"},{"t":4.6,"v":-0.0385,"label":"Match"},
{"t":-11.5,"v":-0.0399,"label":"Non-match"},{"t":-8.9,"v":-0.0404,"label":"Non-match"},{"t":-6.4,"v":-0.0398,"label":"Non-match"},{"t":-3.8,"v":-0.0406,"label":"Non-match"},{"t":-1.3,"v":-0.0401,"label":"Non-match"},{"t":1.3,"v":-0.0405,"label":"Non-match"},{"t":3.8,"v":-0.0400,"label":"Non-match"},
{"t":-10.2,"v":-0.0415,"label":"Non-match"},{"t":-7.6,"v":-0.0420,"label":"Non-match"},{"t":-5.1,"v":-0.0414,"label":"Non-match"},{"t":-2.5,"v":-0.0422,"label":"Non-match"},{"t":0.0,"v":-0.0417,"label":"Match"},{"t":2.6,"v":-0.0421,"label":"Non-match"},
{"t":-8.8,"v":-0.0432,"label":"Non-match"},{"t":-6.2,"v":-0.0437,"label":"Non-match"},{"t":-3.7,"v":-0.0431,"label":"Non-match"},{"t":-1.1,"v":-0.0439,"label":"Non-match"},{"t":1.4,"v":-0.0434,"label":"Non-match"},
{"t":-6.5,"v":-0.0449,"label":"Non-match"},{"t":-3.9,"v":-0.0454,"label":"Non-match"},{"t":-1.4,"v":-0.0448,"label":"Non-match"},
{"t":-4.0,"v":-0.0466,"label":"Non-match"},{"t":-1.0,"v":-0.0471,"label":"Non-match"},
{"t":-5.5,"v":0.0320,"label":"Non-match"},{"t":-3.0,"v":0.0325,"label":"Non-match"},{"t":-0.3,"v":0.0321,"label":"Match"},{"t":2.2,"v":0.0324,"label":"Non-match"},{"t":4.7,"v":0.0319,"label":"Non-match"},{"t":7.2,"v":0.0323,"label":"Match"},
{"t":-11.3,"v":0.0304,"label":"Non-match"},{"t":-8.7,"v":0.0309,"label":"Non-match"},{"t":-6.2,"v":0.0305,"label":"Match"},{"t":-3.6,"v":0.0308,"label":"Non-match"},{"t":-1.1,"v":0.0303,"label":"Non-match"},{"t":1.5,"v":0.0307,"label":"Match"},{"t":4.0,"v":0.0306,"label":"Non-match"},{"t":6.6,"v":0.0304,"label":"Non-match"},{"t":9.1,"v":0.0309,"label":"Non-match"},
{"t":-13.5,"v":0.0288,"label":"Non-match"},{"t":-11.0,"v":0.0293,"label":"Match"},{"t":-8.4,"v":0.0289,"label":"Non-match"},{"t":-5.9,"v":0.0292,"label":"Non-match"},{"t":-3.3,"v":0.0287,"label":"Match"},{"t":-0.8,"v":0.0291,"label":"Non-match"},{"t":1.8,"v":0.0290,"label":"Non-match"},{"t":4.3,"v":0.0288,"label":"Match"},{"t":6.9,"v":0.0293,"label":"Non-match"},{"t":9.4,"v":0.0289,"label":"Match"},{"t":12.0,"v":0.0292,"label":"Non-match"},
{"t":-14.6,"v":0.0271,"label":"Non-match"},{"t":-12.0,"v":0.0276,"label":"Non-match"},{"t":-9.5,"v":0.0272,"label":"Match"},{"t":-6.9,"v":0.0275,"label":"Non-match"},{"t":-4.4,"v":0.0270,"label":"Non-match"},{"t":-1.8,"v":0.0274,"label":"Match"},{"t":0.7,"v":0.0273,"label":"Non-match"},{"t":3.3,"v":0.0271,"label":"Non-match"},{"t":5.8,"v":0.0276,"label":"Match"},{"t":8.4,"v":0.0272,"label":"Non-match"},{"t":10.9,"v":0.0275,"label":"Match"},{"t":13.5,"v":0.0270,"label":"Non-match"},
{"t":-15.5,"v":0.0255,"label":"Non-match"},{"t":-12.9,"v":0.0260,"label":"Match"},{"t":-10.4,"v":0.0256,"label":"Non-match"},{"t":-7.8,"v":0.0259,"label":"Non-match"},{"t":-5.3,"v":0.0254,"label":"Match"},{"t":-2.7,"v":0.0258,"label":"Non-match"},{"t":-0.2,"v":0.0257,"label":"Non-match"},{"t":2.4,"v":0.0255,"label":"Match"},{"t":4.9,"v":0.0260,"label":"Non-match"},{"t":7.5,"v":0.0256,"label":"Match"},{"t":10.0,"v":0.0259,"label":"Non-match"},{"t":12.6,"v":0.0254,"label":"Match"},{"t":15.1,"v":0.0258,"label":"Non-match"},
{"t":-16.4,"v":0.0238,"label":"Non-match"},{"t":-13.8,"v":0.0243,"label":"Non-match"},{"t":-11.3,"v":0.0239,"label":"Match"},{"t":-8.7,"v":0.0242,"label":"Non-match"},{"t":-6.2,"v":0.0237,"label":"Non-match"},{"t":-3.6,"v":0.0241,"label":"Match"},{"t":-1.1,"v":0.0240,"label":"Non-match"},{"t":1.5,"v":0.0238,"label":"Match"},{"t":4.0,"v":0.0243,"label":"Non-match"},{"t":6.6,"v":0.0239,"label":"Match"},{"t":9.1,"v":0.0242,"label":"Non-match"},{"t":11.7,"v":0.0237,"label":"Match"},{"t":14.2,"v":0.0241,"label":"Non-match"},{"t":16.8,"v":0.0240,"label":"Match"},
{"t":-17.0,"v":0.0221,"label":"Non-match"},{"t":-14.4,"v":0.0226,"label":"Match"},{"t":-11.9,"v":0.0222,"label":"Non-match"},{"t":-9.3,"v":0.0225,"label":"Non-match"},{"t":-6.8,"v":0.0220,"label":"Match"},{"t":-4.2,"v":0.0224,"label":"Non-match"},{"t":-1.7,"v":0.0223,"label":"Match"},{"t":0.9,"v":0.0221,"label":"Non-match"},{"t":3.4,"v":0.0226,"label":"Match"},{"t":6.0,"v":0.0222,"label":"Non-match"},{"t":8.5,"v":0.0225,"label":"Match"},{"t":11.1,"v":0.0220,"label":"Non-match"},{"t":13.6,"v":0.0224,"label":"Match"},{"t":16.2,"v":0.0223,"label":"Non-match"},
{"t":-17.5,"v":0.0205,"label":"Non-match"},{"t":-14.9,"v":0.0210,"label":"Non-match"},{"t":-12.4,"v":0.0206,"label":"Match"},{"t":-9.8,"v":0.0209,"label":"Non-match"},{"t":-7.3,"v":0.0204,"label":"Match"},{"t":-4.7,"v":0.0208,"label":"Non-match"},{"t":-2.2,"v":0.0207,"label":"Match"},{"t":0.4,"v":0.0205,"label":"Non-match"},{"t":2.9,"v":0.0210,"label":"Match"},{"t":5.5,"v":0.0206,"label":"Match"},{"t":8.0,"v":0.0209,"label":"Non-match"},{"t":10.6,"v":0.0204,"label":"Match"},{"t":13.1,"v":0.0208,"label":"Non-match"},{"t":15.7,"v":0.0207,"label":"Match"},
{"t":-18.0,"v":0.0188,"label":"Match"},{"t":-15.4,"v":0.0193,"label":"Non-match"},{"t":-12.9,"v":0.0189,"label":"Non-match"},{"t":-10.3,"v":0.0192,"label":"Match"},{"t":-7.8,"v":0.0187,"label":"Non-match"},{"t":-5.2,"v":0.0191,"label":"Match"},{"t":-2.7,"v":0.0190,"label":"Non-match"},{"t":-0.1,"v":0.0188,"label":"Match"},{"t":2.4,"v":0.0193,"label":"Non-match"},{"t":5.0,"v":0.0189,"label":"Match"},{"t":7.5,"v":0.0192,"label":"Non-match"},{"t":10.1,"v":0.0187,"label":"Match"},{"t":12.6,"v":0.0191,"label":"Non-match"},{"t":15.2,"v":0.0190,"label":"Match"},{"t":17.7,"v":0.0188,"label":"Non-match"},
{"t":-18.3,"v":0.0171,"label":"Non-match"},{"t":-15.7,"v":0.0176,"label":"Match"},{"t":-13.2,"v":0.0172,"label":"Non-match"},{"t":-10.6,"v":0.0175,"label":"Non-match"},{"t":-8.1,"v":0.0170,"label":"Match"},{"t":-5.5,"v":0.0174,"label":"Non-match"},{"t":-3.0,"v":0.0173,"label":"Match"},{"t":-0.4,"v":0.0171,"label":"Non-match"},{"t":2.1,"v":0.0176,"label":"Match"},{"t":4.7,"v":0.0172,"label":"Match"},{"t":7.2,"v":0.0175,"label":"Non-match"},{"t":9.8,"v":0.0170,"label":"Match"},{"t":12.3,"v":0.0174,"label":"Non-match"},{"t":14.9,"v":0.0173,"label":"Match"},{"t":17.4,"v":0.0171,"label":"Non-match"},
{"t":-18.6,"v":0.0155,"label":"Non-match"},{"t":-16.0,"v":0.0160,"label":"Non-match"},{"t":-13.5,"v":0.0156,"label":"Match"},{"t":-10.9,"v":0.0159,"label":"Non-match"},{"t":-8.4,"v":0.0154,"label":"Match"},{"t":-5.8,"v":0.0158,"label":"Match"},{"t":-3.3,"v":0.0157,"label":"Non-match"},{"t":-0.7,"v":0.0155,"label":"Match"},{"t":1.8,"v":0.0160,"label":"Non-match"},{"t":4.4,"v":0.0156,"label":"Match"},{"t":6.9,"v":0.0159,"label":"Non-match"},{"t":9.5,"v":0.0154,"label":"Match"},{"t":12.0,"v":0.0158,"label":"Match"},{"t":14.6,"v":0.0157,"label":"Non-match"},{"t":17.1,"v":0.0155,"label":"Match"},
{"t":-18.9,"v":0.0138,"label":"Match"},{"t":-16.3,"v":0.0143,"label":"Non-match"},{"t":-13.8,"v":0.0139,"label":"Match"},{"t":-11.2,"v":0.0142,"label":"Non-match"},{"t":-8.7,"v":0.0137,"label":"Match"},{"t":-6.1,"v":0.0141,"label":"Non-match"},{"t":-3.6,"v":0.0140,"label":"Match"},{"t":-1.0,"v":0.0138,"label":"Match"},{"t":1.5,"v":0.0143,"label":"Non-match"},{"t":4.1,"v":0.0139,"label":"Match"},{"t":6.6,"v":0.0142,"label":"Match"},{"t":9.2,"v":0.0137,"label":"Non-match"},{"t":11.7,"v":0.0141,"label":"Match"},{"t":14.3,"v":0.0140,"label":"Non-match"},{"t":16.8,"v":0.0138,"label":"Match"},
{"t":-19.2,"v":0.0121,"label":"Non-match"},{"t":-16.6,"v":0.0126,"label":"Match"},{"t":-14.1,"v":0.0122,"label":"Non-match"},{"t":-11.5,"v":0.0125,"label":"Match"},{"t":-9.0,"v":0.0120,"label":"Match"},{"t":-6.4,"v":0.0124,"label":"Non-match"},{"t":-3.9,"v":0.0123,"label":"Match"},{"t":-1.3,"v":0.0121,"label":"Match"},{"t":1.2,"v":0.0126,"label":"Non-match"},{"t":3.8,"v":0.0122,"label":"Match"},{"t":6.3,"v":0.0125,"label":"Non-match"},{"t":8.9,"v":0.0120,"label":"Match"},{"t":11.4,"v":0.0124,"label":"Match"},{"t":14.0,"v":0.0123,"label":"Non-match"},{"t":16.5,"v":0.0121,"label":"Match"},
{"t":-19.5,"v":0.0105,"label":"Non-match"},{"t":-16.9,"v":0.0110,"label":"Match"},{"t":-14.4,"v":0.0106,"label":"Match"},{"t":-11.8,"v":0.0109,"label":"Non-match"},{"t":-9.3,"v":0.0104,"label":"Match"},{"t":-6.7,"v":0.0108,"label":"Match"},{"t":-4.2,"v":0.0107,"label":"Non-match"},{"t":-1.6,"v":0.0105,"label":"Match"},{"t":0.9,"v":0.0110,"label":"Match"},{"t":3.5,"v":0.0106,"label":"Non-match"},{"t":6.0,"v":0.0109,"label":"Match"},{"t":8.6,"v":0.0104,"label":"Match"},{"t":11.1,"v":0.0108,"label":"Non-match"},{"t":13.7,"v":0.0107,"label":"Match"},{"t":16.2,"v":0.0105,"label":"Non-match"},
{"t":-19.7,"v":0.0088,"label":"Match"},{"t":-17.1,"v":0.0093,"label":"Non-match"},{"t":-14.6,"v":0.0089,"label":"Non-match"},{"t":-12.0,"v":0.0092,"label":"Match"},{"t":-9.5,"v":0.0087,"label":"Match"},{"t":-6.9,"v":0.0091,"label":"Non-match"},{"t":-4.4,"v":0.0090,"label":"Match"},{"t":-1.8,"v":0.0088,"label":"Match"},{"t":0.7,"v":0.0093,"label":"Non-match"},{"t":3.3,"v":0.0089,"label":"Match"},{"t":5.8,"v":0.0092,"label":"Match"},{"t":8.4,"v":0.0087,"label":"Non-match"},{"t":10.9,"v":0.0091,"label":"Match"},{"t":13.5,"v":0.0090,"label":"Non-match"},{"t":16.0,"v":0.0088,"label":"Match"},
{"t":-19.2,"v":0.0071,"label":"Non-match"},{"t":-16.6,"v":0.0076,"label":"Match"},{"t":-14.1,"v":0.0072,"label":"Match"},{"t":-11.5,"v":0.0075,"label":"Non-match"},{"t":-9.0,"v":0.0070,"label":"Match"},{"t":-6.4,"v":0.0074,"label":"Match"},{"t":-3.9,"v":0.0073,"label":"Non-match"},{"t":-1.3,"v":0.0071,"label":"Match"},{"t":1.2,"v":0.0076,"label":"Match"},{"t":3.8,"v":0.0072,"label":"Non-match"},{"t":6.3,"v":0.0075,"label":"Match"},{"t":8.9,"v":0.0070,"label":"Match"},{"t":11.4,"v":0.0074,"label":"Non-match"},{"t":14.0,"v":0.0073,"label":"Match"},{"t":16.5,"v":0.0071,"label":"Non-match"},
{"t":-18.8,"v":0.0055,"label":"Match"},{"t":-16.2,"v":0.0060,"label":"Non-match"},{"t":-13.7,"v":0.0056,"label":"Match"},{"t":-11.1,"v":0.0059,"label":"Match"},{"t":-8.6,"v":0.0054,"label":"Non-match"},{"t":-6.0,"v":0.0058,"label":"Match"},{"t":-3.5,"v":0.0057,"label":"Match"},{"t":-0.9,"v":0.0055,"label":"Non-match"},{"t":1.6,"v":0.0060,"label":"Match"},{"t":4.2,"v":0.0056,"label":"Match"},{"t":6.7,"v":0.0059,"label":"Non-match"},{"t":9.3,"v":0.0054,"label":"Match"},{"t":11.8,"v":0.0058,"label":"Non-match"},{"t":14.4,"v":0.0057,"label":"Match"},{"t":17.0,"v":0.0055,"label":"Non-match"},
{"t":-18.3,"v":0.0038,"label":"Non-match"},{"t":-15.7,"v":0.0043,"label":"Match"},{"t":-13.2,"v":0.0039,"label":"Non-match"},{"t":-10.6,"v":0.0042,"label":"Match"},{"t":-8.1,"v":0.0037,"label":"Match"},{"t":-5.5,"v":0.0041,"label":"Non-match"},{"t":-3.0,"v":0.0040,"label":"Match"},{"t":-0.4,"v":0.0038,"label":"Match"},{"t":2.1,"v":0.0043,"label":"Non-match"},{"t":4.7,"v":0.0039,"label":"Match"},{"t":7.2,"v":0.0042,"label":"Match"},{"t":9.8,"v":0.0037,"label":"Non-match"},{"t":12.3,"v":0.0041,"label":"Match"},{"t":14.9,"v":0.0040,"label":"Non-match"},
{"t":-18.0,"v":0.0021,"label":"Non-match"},{"t":-15.4,"v":0.0026,"label":"Match"},{"t":-12.9,"v":0.0022,"label":"Match"},{"t":-10.3,"v":0.0025,"label":"Non-match"},{"t":-7.8,"v":0.0020,"label":"Match"},{"t":-5.2,"v":0.0024,"label":"Match"},{"t":-2.7,"v":0.0023,"label":"Non-match"},{"t":-0.1,"v":0.0021,"label":"Match"},{"t":2.4,"v":0.0026,"label":"Match"},{"t":5.0,"v":0.0022,"label":"Non-match"},{"t":7.5,"v":0.0025,"label":"Match"},{"t":10.1,"v":0.0020,"label":"Non-match"},{"t":12.6,"v":0.0024,"label":"Match"},{"t":15.2,"v":0.0023,"label":"Non-match"},
{"t":-17.6,"v":0.0005,"label":"Non-match"},{"t":-15.0,"v":0.0010,"label":"Non-match"},{"t":-12.5,"v":0.0006,"label":"Match"},{"t":-9.9,"v":0.0009,"label":"Match"},{"t":-7.4,"v":0.0004,"label":"Non-match"},{"t":-4.8,"v":0.0008,"label":"Match"},{"t":-2.3,"v":0.0007,"label":"Match"},{"t":0.3,"v":0.0005,"label":"Non-match"},{"t":2.8,"v":0.0010,"label":"Match"},{"t":5.3,"v":0.0006,"label":"Non-match"},{"t":7.9,"v":0.0009,"label":"Match"},{"t":10.4,"v":0.0004,"label":"Non-match"},{"t":13.0,"v":0.0008,"label":"Non-match"},{"t":15.5,"v":0.0007,"label":"Match"},
{"t":-17.8,"v":-0.0012,"label":"Non-match"},{"t":-15.2,"v":-0.0007,"label":"Match"},{"t":-12.7,"v":-0.0011,"label":"Non-match"},{"t":-10.1,"v":-0.0008,"label":"Match"},{"t":-7.6,"v":-0.0013,"label":"Match"},{"t":-5.0,"v":-0.0009,"label":"Non-match"},{"t":-2.5,"v":-0.0010,"label":"Match"},{"t":0.1,"v":-0.0012,"label":"Match"},{"t":2.6,"v":-0.0007,"label":"Non-match"},{"t":5.2,"v":-0.0011,"label":"Match"},{"t":7.7,"v":-0.0008,"label":"Non-match"},{"t":10.3,"v":-0.0013,"label":"Non-match"},{"t":12.8,"v":-0.0009,"label":"Match"},{"t":15.4,"v":-0.0010,"label":"Non-match"},
{"t":-17.4,"v":-0.0029,"label":"Non-match"},{"t":-14.8,"v":-0.0024,"label":"Non-match"},{"t":-12.3,"v":-0.0028,"label":"Match"},{"t":-9.7,"v":-0.0025,"label":"Non-match"},{"t":-7.2,"v":-0.0030,"label":"Match"},{"t":-4.6,"v":-0.0026,"label":"Match"},{"t":-2.1,"v":-0.0027,"label":"Non-match"},{"t":0.5,"v":-0.0029,"label":"Match"},{"t":3.0,"v":-0.0024,"label":"Non-match"},{"t":5.6,"v":-0.0028,"label":"Match"},{"t":8.1,"v":-0.0025,"label":"Non-match"},{"t":10.7,"v":-0.0030,"label":"Non-match"},{"t":13.2,"v":-0.0026,"label":"Match"},{"t":15.8,"v":-0.0027,"label":"Non-match"},
{"t":-17.2,"v":-0.0045,"label":"Non-match"},{"t":-14.6,"v":-0.0040,"label":"Match"},{"t":-12.1,"v":-0.0044,"label":"Non-match"},{"t":-9.5,"v":-0.0041,"label":"Match"},{"t":-7.0,"v":-0.0046,"label":"Non-match"},{"t":-4.4,"v":-0.0042,"label":"Match"},{"t":-1.9,"v":-0.0043,"label":"Match"},{"t":0.7,"v":-0.0045,"label":"Non-match"},{"t":3.2,"v":-0.0040,"label":"Match"},{"t":5.8,"v":-0.0044,"label":"Non-match"},{"t":8.3,"v":-0.0041,"label":"Non-match"},{"t":10.9,"v":-0.0046,"label":"Match"},{"t":13.4,"v":-0.0042,"label":"Non-match"},{"t":16.0,"v":-0.0043,"label":"Non-match"},
{"t":-18.5,"v":-0.0062,"label":"Non-match"},{"t":-15.9,"v":-0.0057,"label":"Non-match"},{"t":-13.4,"v":-0.0061,"label":"Match"},{"t":-10.8,"v":-0.0058,"label":"Non-match"},{"t":-8.3,"v":-0.0063,"label":"Match"},{"t":-5.7,"v":-0.0059,"label":"Non-match"},{"t":-3.2,"v":-0.0060,"label":"Match"},{"t":-0.6,"v":-0.0062,"label":"Match"},{"t":1.9,"v":-0.0057,"label":"Non-match"},{"t":4.5,"v":-0.0061,"label":"Match"},{"t":7.0,"v":-0.0058,"label":"Non-match"},{"t":9.6,"v":-0.0063,"label":"Non-match"},{"t":12.1,"v":-0.0059,"label":"Match"},{"t":14.7,"v":-0.0060,"label":"Non-match"},
{"t":-17.6,"v":-0.0079,"label":"Non-match"},{"t":-15.0,"v":-0.0074,"label":"Match"},{"t":-12.5,"v":-0.0078,"label":"Non-match"},{"t":-9.9,"v":-0.0075,"label":"Non-match"},{"t":-7.4,"v":-0.0080,"label":"Match"},{"t":-4.8,"v":-0.0076,"label":"Non-match"},{"t":-2.3,"v":-0.0077,"label":"Match"},{"t":0.3,"v":-0.0079,"label":"Non-match"},{"t":2.8,"v":-0.0074,"label":"Match"},{"t":5.4,"v":-0.0078,"label":"Non-match"},{"t":7.9,"v":-0.0075,"label":"Non-match"},{"t":10.5,"v":-0.0080,"label":"Match"},{"t":13.0,"v":-0.0076,"label":"Non-match"},{"t":15.6,"v":-0.0077,"label":"Non-match"},
{"t":-18.3,"v":-0.0095,"label":"Non-match"},{"t":-15.7,"v":-0.0090,"label":"Non-match"},{"t":-13.2,"v":-0.0094,"label":"Match"},{"t":-10.6,"v":-0.0091,"label":"Non-match"},{"t":-8.1,"v":-0.0096,"label":"Non-match"},{"t":-5.5,"v":-0.0092,"label":"Match"},{"t":-3.0,"v":-0.0093,"label":"Non-match"},{"t":-0.4,"v":-0.0095,"label":"Match"},{"t":2.1,"v":-0.0090,"label":"Non-match"},{"t":4.7,"v":-0.0094,"label":"Non-match"},{"t":7.2,"v":-0.0091,"label":"Match"},{"t":9.8,"v":-0.0096,"label":"Non-match"},{"t":12.3,"v":-0.0092,"label":"Non-match"},{"t":14.9,"v":-0.0093,"label":"Match"},
{"t":-18.1,"v":-0.0112,"label":"Non-match"},{"t":-15.5,"v":-0.0107,"label":"Non-match"},{"t":-13.0,"v":-0.0111,"label":"Non-match"},{"t":-10.4,"v":-0.0108,"label":"Match"},{"t":-7.9,"v":-0.0113,"label":"Non-match"},{"t":-5.3,"v":-0.0109,"label":"Non-match"},{"t":-2.8,"v":-0.0110,"label":"Match"},{"t":-0.2,"v":-0.0112,"label":"Non-match"},{"t":2.3,"v":-0.0107,"label":"Match"},{"t":4.9,"v":-0.0111,"label":"Non-match"},{"t":7.4,"v":-0.0108,"label":"Non-match"},{"t":10.0,"v":-0.0113,"label":"Non-match"},{"t":12.5,"v":-0.0109,"label":"Match"},{"t":15.1,"v":-0.0110,"label":"Non-match"},
{"t":-18.7,"v":-0.0129,"label":"Non-match"},{"t":-16.1,"v":-0.0124,"label":"Match"},{"t":-13.6,"v":-0.0128,"label":"Non-match"},{"t":-11.0,"v":-0.0125,"label":"Non-match"},{"t":-8.5,"v":-0.0130,"label":"Match"},{"t":-5.9,"v":-0.0126,"label":"Non-match"},{"t":-3.4,"v":-0.0127,"label":"Non-match"},{"t":-0.8,"v":-0.0129,"label":"Match"},{"t":1.7,"v":-0.0124,"label":"Non-match"},{"t":4.3,"v":-0.0128,"label":"Match"},{"t":6.8,"v":-0.0125,"label":"Non-match"},{"t":9.4,"v":-0.0130,"label":"Non-match"},{"t":11.9,"v":-0.0126,"label":"Non-match"},{"t":14.5,"v":-0.0127,"label":"Match"},
{"t":-17.8,"v":-0.0145,"label":"Non-match"},{"t":-15.2,"v":-0.0140,"label":"Non-match"},{"t":-12.7,"v":-0.0144,"label":"Non-match"},{"t":-10.1,"v":-0.0141,"label":"Match"},{"t":-7.6,"v":-0.0146,"label":"Non-match"},{"t":-5.0,"v":-0.0142,"label":"Non-match"},{"t":-2.5,"v":-0.0143,"label":"Match"},{"t":0.1,"v":-0.0145,"label":"Non-match"},{"t":2.6,"v":-0.0140,"label":"Non-match"},{"t":5.2,"v":-0.0144,"label":"Match"},{"t":7.7,"v":-0.0141,"label":"Non-match"},{"t":10.3,"v":-0.0146,"label":"Non-match"},{"t":12.8,"v":-0.0142,"label":"Non-match"},
{"t":-17.4,"v":-0.0162,"label":"Non-match"},{"t":-14.8,"v":-0.0157,"label":"Non-match"},{"t":-12.3,"v":-0.0161,"label":"Match"},{"t":-9.7,"v":-0.0158,"label":"Non-match"},{"t":-7.2,"v":-0.0163,"label":"Non-match"},{"t":-4.6,"v":-0.0159,"label":"Match"},{"t":-2.1,"v":-0.0160,"label":"Non-match"},{"t":0.5,"v":-0.0162,"label":"Non-match"},{"t":3.0,"v":-0.0157,"label":"Match"},{"t":5.6,"v":-0.0161,"label":"Non-match"},{"t":8.1,"v":-0.0158,"label":"Non-match"},{"t":10.7,"v":-0.0163,"label":"Match"},{"t":13.2,"v":-0.0159,"label":"Non-match"},
{"t":-17.0,"v":-0.0179,"label":"Non-match"},{"t":-14.4,"v":-0.0174,"label":"Non-match"},{"t":-11.9,"v":-0.0178,"label":"Non-match"},{"t":-9.3,"v":-0.0175,"label":"Match"},{"t":-6.8,"v":-0.0180,"label":"Non-match"},{"t":-4.2,"v":-0.0176,"label":"Non-match"},{"t":-1.7,"v":-0.0177,"label":"Non-match"},{"t":0.9,"v":-0.0179,"label":"Match"},{"t":3.4,"v":-0.0174,"label":"Non-match"},{"t":6.0,"v":-0.0178,"label":"Non-match"},{"t":8.5,"v":-0.0175,"label":"Match"},{"t":11.1,"v":-0.0180,"label":"Non-match"},
{"t":-16.6,"v":-0.0195,"label":"Non-match"},{"t":-14.0,"v":-0.0190,"label":"Non-match"},{"t":-11.5,"v":-0.0194,"label":"Non-match"},{"t":-8.9,"v":-0.0191,"label":"Non-match"},{"t":-6.4,"v":-0.0196,"label":"Match"},{"t":-3.8,"v":-0.0192,"label":"Non-match"},{"t":-1.3,"v":-0.0193,"label":"Non-match"},{"t":1.3,"v":-0.0195,"label":"Non-match"},{"t":3.8,"v":-0.0190,"label":"Match"},{"t":6.4,"v":-0.0194,"label":"Non-match"},{"t":8.9,"v":-0.0191,"label":"Non-match"},{"t":11.5,"v":-0.0196,"label":"Non-match"},
{"t":-16.2,"v":-0.0212,"label":"Non-match"},{"t":-13.6,"v":-0.0207,"label":"Non-match"},{"t":-11.1,"v":-0.0211,"label":"Match"},{"t":-8.5,"v":-0.0208,"label":"Non-match"},{"t":-6.0,"v":-0.0213,"label":"Non-match"},{"t":-3.4,"v":-0.0209,"label":"Non-match"},{"t":-0.9,"v":-0.0210,"label":"Match"},{"t":1.7,"v":-0.0212,"label":"Non-match"},{"t":4.2,"v":-0.0207,"label":"Non-match"},{"t":6.8,"v":-0.0211,"label":"Non-match"},{"t":9.3,"v":-0.0208,"label":"Match"},
{"t":-15.8,"v":-0.0229,"label":"Non-match"},{"t":-13.2,"v":-0.0224,"label":"Non-match"},{"t":-10.7,"v":-0.0228,"label":"Non-match"},{"t":-8.1,"v":-0.0225,"label":"Non-match"},{"t":-5.6,"v":-0.0230,"label":"Match"},{"t":-3.0,"v":-0.0226,"label":"Non-match"},{"t":-0.5,"v":-0.0227,"label":"Non-match"},{"t":2.1,"v":-0.0229,"label":"Non-match"},{"t":4.6,"v":-0.0224,"label":"Match"},{"t":7.2,"v":-0.0228,"label":"Non-match"},{"t":9.7,"v":-0.0225,"label":"Non-match"},
{"t":-15.4,"v":-0.0245,"label":"Non-match"},{"t":-12.8,"v":-0.0240,"label":"Non-match"},{"t":-10.3,"v":-0.0244,"label":"Non-match"},{"t":-7.7,"v":-0.0241,"label":"Non-match"},{"t":-5.2,"v":-0.0246,"label":"Non-match"},{"t":-2.6,"v":-0.0242,"label":"Match"},{"t":-0.1,"v":-0.0243,"label":"Non-match"},{"t":2.5,"v":-0.0245,"label":"Non-match"},{"t":5.0,"v":-0.0240,"label":"Non-match"},{"t":7.6,"v":-0.0244,"label":"Non-match"},{"t":10.1,"v":-0.0241,"label":"Non-match"},
{"t":-15.0,"v":-0.0262,"label":"Non-match"},{"t":-12.4,"v":-0.0257,"label":"Non-match"},{"t":-9.9,"v":-0.0261,"label":"Match"},{"t":-7.3,"v":-0.0258,"label":"Non-match"},{"t":-4.8,"v":-0.0263,"label":"Non-match"},{"t":-2.2,"v":-0.0259,"label":"Non-match"},{"t":0.3,"v":-0.0260,"label":"Non-match"},{"t":2.9,"v":-0.0262,"label":"Match"},{"t":5.4,"v":-0.0257,"label":"Non-match"},{"t":8.0,"v":-0.0261,"label":"Non-match"},
{"t":-14.6,"v":-0.0279,"label":"Non-match"},{"t":-12.0,"v":-0.0274,"label":"Non-match"},{"t":-9.5,"v":-0.0278,"label":"Non-match"},{"t":-6.9,"v":-0.0275,"label":"Non-match"},{"t":-4.4,"v":-0.0280,"label":"Non-match"},{"t":-1.8,"v":-0.0276,"label":"Non-match"},{"t":0.7,"v":-0.0277,"label":"Non-match"},{"t":3.3,"v":-0.0279,"label":"Non-match"},{"t":5.8,"v":-0.0274,"label":"Match"},{"t":8.4,"v":-0.0278,"label":"Non-match"},
{"t":-14.2,"v":-0.0295,"label":"Non-match"},{"t":-11.6,"v":-0.0290,"label":"Non-match"},{"t":-9.1,"v":-0.0294,"label":"Non-match"},{"t":-6.5,"v":-0.0291,"label":"Non-match"},{"t":-4.0,"v":-0.0296,"label":"Match"},{"t":-1.4,"v":-0.0292,"label":"Non-match"},{"t":1.1,"v":-0.0293,"label":"Non-match"},{"t":3.7,"v":-0.0295,"label":"Non-match"},{"t":6.2,"v":-0.0290,"label":"Non-match"},
{"t":-13.8,"v":-0.0312,"label":"Non-match"},{"t":-11.2,"v":-0.0307,"label":"Non-match"},{"t":-8.7,"v":-0.0311,"label":"Non-match"},{"t":-6.1,"v":-0.0308,"label":"Non-match"},{"t":-3.6,"v":-0.0313,"label":"Non-match"},{"t":-1.0,"v":-0.0309,"label":"Non-match"},{"t":1.5,"v":-0.0310,"label":"Match"},{"t":4.1,"v":-0.0312,"label":"Non-match"},{"t":6.6,"v":-0.0307,"label":"Non-match"},
{"t":-13.2,"v":-0.0329,"label":"Non-match"},{"t":-10.6,"v":-0.0324,"label":"Non-match"},{"t":-8.1,"v":-0.0328,"label":"Non-match"},{"t":-5.5,"v":-0.0325,"label":"Non-match"},{"t":-3.0,"v":-0.0330,"label":"Non-match"},{"t":-0.4,"v":-0.0326,"label":"Non-match"},{"t":2.1,"v":-0.0327,"label":"Non-match"},{"t":4.7,"v":-0.0329,"label":"Non-match"},{"t":7.2,"v":-0.0324,"label":"Non-match"},
{"t":-12.6,"v":-0.0345,"label":"Non-match"},{"t":-10.0,"v":-0.0340,"label":"Non-match"},{"t":-7.5,"v":-0.0344,"label":"Non-match"},{"t":-4.9,"v":-0.0341,"label":"Match"},{"t":-2.4,"v":-0.0346,"label":"Non-match"},{"t":0.2,"v":-0.0342,"label":"Non-match"},{"t":2.7,"v":-0.0343,"label":"Non-match"},{"t":5.3,"v":-0.0345,"label":"Non-match"},
{"t":-12.0,"v":-0.0362,"label":"Non-match"},{"t":-9.4,"v":-0.0357,"label":"Non-match"},{"t":-6.9,"v":-0.0361,"label":"Non-match"},{"t":-4.3,"v":-0.0358,"label":"Non-match"},{"t":-1.8,"v":-0.0363,"label":"Non-match"},{"t":0.8,"v":-0.0359,"label":"Non-match"},{"t":3.3,"v":-0.0360,"label":"Non-match"},
{"t":-11.4,"v":-0.0379,"label":"Non-match"},{"t":-8.8,"v":-0.0374,"label":"Non-match"},{"t":-6.3,"v":-0.0378,"label":"Non-match"},{"t":-3.7,"v":-0.0375,"label":"Non-match"},{"t":-1.2,"v":-0.0380,"label":"Non-match"},{"t":1.4,"v":-0.0376,"label":"Non-match"},{"t":3.9,"v":-0.0377,"label":"Non-match"},
{"t":-10.3,"v":-0.0395,"label":"Non-match"},{"t":-7.7,"v":-0.0390,"label":"Non-match"},{"t":-5.2,"v":-0.0394,"label":"Non-match"},{"t":-2.6,"v":-0.0391,"label":"Non-match"},{"t":-0.1,"v":-0.0396,"label":"Non-match"},{"t":2.5,"v":-0.0392,"label":"Non-match"},
{"t":-9.0,"v":-0.0412,"label":"Non-match"},{"t":-6.4,"v":-0.0407,"label":"Non-match"},{"t":-3.9,"v":-0.0411,"label":"Non-match"},{"t":-1.3,"v":-0.0408,"label":"Non-match"},{"t":1.2,"v":-0.0413,"label":"Non-match"},
{"t":-7.5,"v":-0.0429,"label":"Non-match"},{"t":-4.9,"v":-0.0424,"label":"Non-match"},{"t":-2.4,"v":-0.0428,"label":"Non-match"},{"t":0.2,"v":-0.0425,"label":"Non-match"},
{"t":-5.2,"v":-0.0445,"label":"Non-match"},{"t":-2.6,"v":-0.0440,"label":"Non-match"},{"t":0.0,"v":-0.0444,"label":"Non-match"},
{"t":40.5,"v":0.0332,"label":"Non-match"},{"t":43.6,"v":0.0285,"label":"Non-match"},{"t":46.5,"v":0.0266,"label":"Non-match"},{"t":79.0,"v":0.0257,"label":"Non-match"},{"t":87.5,"v":0.0210,"label":"Non-match"},{"t":63.5,"v":0.0210,"label":"Non-match"},{"t":69.4,"v":0.0193,"label":"Non-match"},{"t":73.6,"v":0.0186,"label":"Non-match"},{"t":65.6,"v":0.0172,"label":"Non-match"},{"t":56.5,"v":0.0158,"label":"Non-match"},{"t":57.7,"v":0.0135,"label":"Non-match"},{"t":48.4,"v":0.0125,"label":"Non-match"},{"t":60.1,"v":0.0082,"label":"Non-match"},{"t":67.6,"v":0.0039,"label":"Non-match"},{"t":66.4,"v":-0.0007,"label":"Non-match"},{"t":45.2,"v":0.0002,"label":"Non-match"},{"t":106.2,"v":-0.0055,"label":"Non-match"},{"t":41.6,"v":0.0243,"label":"Non-match"},{"t":36.6,"v":0.0239,"label":"Non-match"},{"t":35.7,"v":0.0235,"label":"Non-match"},{"t":38.7,"v":0.0194,"label":"Non-match"},{"t":41.9,"v":0.0154,"label":"Non-match"},{"t":42.4,"v":0.0150,"label":"Non-match"},{"t":32.9,"v":0.0164,"label":"Non-match"},{"t":32.5,"v":0.0143,"label":"Non-match"},{"t":33.3,"v":0.0141,"label":"Non-match"},{"t":32.2,"v":0.0083,"label":"Non-match"},{"t":33.8,"v":0.0074,"label":"Non-match"},{"t":27.6,"v":0.0099,"label":"Non-match"},{"t":29.4,"v":0.0215,"label":"Non-match"},{"t":26.1,"v":0.0260,"label":"Non-match"},{"t":21.4,"v":0.0258,"label":"Non-match"},{"t":23.2,"v":0.0233,"label":"Non-match"},{"t":21.4,"v":0.0208,"label":"Non-match"},{"t":19.9,"v":0.0186,"label":"Non-match"},{"t":24.3,"v":0.0172,"label":"Non-match"},{"t":26.9,"v":0.0167,"label":"Non-match"},{"t":19.6,"v":0.0149,"label":"Non-match"},{"t":24.0,"v":-0.0007,"label":"Non-match"},{"t":24.3,"v":-0.0035,"label":"Non-match"},{"t":33.8,"v":-0.0034,"label":"Non-match"},{"t":30.2,"v":-0.0076,"label":"Non-match"},{"t":33.1,"v":-0.0076,"label":"Non-match"},
{"t":75.4,"v":0.0293,"label":"Match"},{"t":51.0,"v":0.0253,"label":"Match"},{"t":50.9,"v":0.0227,"label":"Match"},{"t":31.1,"v":0.0266,"label":"Match"},{"t":39.3,"v":0.0244,"label":"Match"},{"t":45.5,"v":0.0186,"label":"Match"},{"t":36.3,"v":0.0186,"label":"Match"},{"t":52.5,"v":0.0146,"label":"Match"},{"t":44.4,"v":0.0129,"label":"Match"},{"t":42.2,"v":0.0117,"label":"Match"},{"t":53.9,"v":0.0113,"label":"Match"},{"t":43.5,"v":0.0098,"label":"Match"},{"t":32.3,"v":0.0115,"label":"Match"},{"t":27.5,"v":0.0117,"label":"Match"},{"t":102.9,"v":0.0115,"label":"Match"},{"t":38.5,"v":0.0056,"label":"Match"},{"t":44.6,"v":0.0064,"label":"Match"},{"t":22.6,"v":0.0039,"label":"Match"},{"t":27.1,"v":0.0034,"label":"Match"},{"t":31.5,"v":0.0022,"label":"Match"},{"t":35.0,"v":0.0019,"label":"Match"},{"t":54.4,"v":0.0026,"label":"Match"},{"t":61.8,"v":0.0025,"label":"Match"},{"t":67.8,"v":0.0025,"label":"Match"},{"t":29.1,"v":0.0003,"label":"Match"},{"t":26.4,"v":-0.0013,"label":"Match"},{"t":63.4,"v":-0.0051,"label":"Match"},{"t":20.6,"v":-0.0058,"label":"Match"},{"t":28.8,"v":0.0150,"label":"Match"},{"t":22.1,"v":0.0158,"label":"Match"},{"t":27.0,"v":0.0204,"label":"Match"},{"t":24.2,"v":0.0125,"label":"Match"},{"t":25.5,"v":0.0098,"label":"Match"},{"t":19.3,"v":0.0294,"label":"Match"},{"t":19.4,"v":0.0270,"label":"Match"},{"t":19.3,"v":0.0052,"label":"Match"},
{"t":21.1,"v":-0.0087,"label":"Non-match"},{"t":54.8,"v":-0.0094,"label":"Non-match"},{"t":19.3,"v":-0.0113,"label":"Non-match"},{"t":21.1,"v":-0.0122,"label":"Non-match"},{"t":23.7,"v":-0.0130,"label":"Non-match"},{"t":32.9,"v":-0.0135,"label":"Non-match"},{"t":34.6,"v":-0.0117,"label":"Non-match"},{"t":35.5,"v":-0.0116,"label":"Non-match"},{"t":41.1,"v":-0.0113,"label":"Non-match"},{"t":42.5,"v":-0.0122,"label":"Non-match"},{"t":42.6,"v":-0.0142,"label":"Non-match"},{"t":47.5,"v":-0.0111,"label":"Non-match"},{"t":46.8,"v":-0.0124,"label":"Non-match"},{"t":48.8,"v":-0.0153,"label":"Non-match"},{"t":59.8,"v":-0.0139,"label":"Non-match"},{"t":76.8,"v":-0.0116,"label":"Non-match"},{"t":67.1,"v":-0.0164,"label":"Non-match"},{"t":22.7,"v":-0.0167,"label":"Non-match"},{"t":27.3,"v":-0.0163,"label":"Non-match"},{"t":28.5,"v":-0.0175,"label":"Non-match"},{"t":31.0,"v":-0.0164,"label":"Non-match"},{"t":33.4,"v":-0.0168,"label":"Non-match"},{"t":40.1,"v":-0.0180,"label":"Non-match"},{"t":45.8,"v":-0.0194,"label":"Non-match"},{"t":18.5,"v":-0.0216,"label":"Non-match"},{"t":23.5,"v":-0.0244,"label":"Non-match"},{"t":31.0,"v":-0.0233,"label":"Non-match"},{"t":49.8,"v":-0.0239,"label":"Non-match"},{"t":26.9,"v":-0.0278,"label":"Non-match"},{"t":24.5,"v":-0.0298,"label":"Non-match"},{"t":36.0,"v":-0.0290,"label":"Non-match"},{"t":35.5,"v":-0.0317,"label":"Non-match"},{"t":49.8,"v":-0.0331,"label":"Non-match"},{"t":99.2,"v":-0.0336,"label":"Non-match"},{"t":113.8,"v":-0.0232,"label":"Non-match"},{"t":21.5,"v":-0.0359,"label":"Non-match"},{"t":29.6,"v":-0.0392,"label":"Non-match"},{"t":62.0,"v":-0.0408,"label":"Non-match"},{"t":64.3,"v":-0.0415,"label":"Non-match"},{"t":21.6,"v":-0.0426,"label":"Non-match"},{"t":18.5,"v":-0.0302,"label":"Non-match"},
{"t":36.8,"v":-0.0091,"label":"Match"},{"t":39.6,"v":-0.0106,"label":"Match"},{"t":26.0,"v":-0.0121,"label":"Match"},{"t":33.7,"v":-0.0185,"label":"Match"},{"t":34.3,"v":-0.0181,"label":"Match"},{"t":20.0,"v":-0.0179,"label":"Match"},{"t":71.3,"v":-0.0226,"label":"Match"},{"t":86.6,"v":-0.0220,"label":"Match"},{"t":27.7,"v":-0.0245,"label":"Match"},{"t":40.6,"v":-0.0305,"label":"Match"},{"t":22.5,"v":-0.0371,"label":"Match"},{"t":52.0,"v":-0.0398,"label":"Match"},
{"t":-44.4,"v":0.0057,"label":"Non-match"},{"t":-29.8,"v":0.0055,"label":"Non-match"},{"t":-23.8,"v":0.0055,"label":"Non-match"},{"t":-33.6,"v":-0.0007,"label":"Non-match"},{"t":-25.6,"v":0.0012,"label":"Non-match"},{"t":-20.9,"v":-0.0046,"label":"Non-match"},{"t":-22.9,"v":0.0256,"label":"Non-match"},{"t":-23.8,"v":0.0231,"label":"Non-match"},{"t":-33.6,"v":0.0208,"label":"Non-match"},{"t":-25.0,"v":0.0202,"label":"Non-match"},{"t":-21.6,"v":0.0175,"label":"Non-match"},{"t":-26.3,"v":0.0143,"label":"Non-match"},{"t":-21.3,"v":0.0147,"label":"Non-match"},{"t":-23.4,"v":0.0121,"label":"Non-match"},{"t":-29.1,"v":0.0109,"label":"Non-match"},{"t":-32.0,"v":-0.0074,"label":"Non-match"},
{"t":-17.9,"v":0.0287,"label":"Match"},{"t":-14.4,"v":0.0305,"label":"Match"},{"t":-10.8,"v":0.0315,"label":"Match"},{"t":-30.6,"v":0.0198,"label":"Match"},{"t":-24.0,"v":0.0176,"label":"Match"},{"t":-30.1,"v":0.0156,"label":"Match"},{"t":-27.7,"v":0.0103,"label":"Match"},{"t":-24.8,"v":0.0109,"label":"Match"},{"t":-22.1,"v":0.0103,"label":"Match"},{"t":-19.8,"v":0.0112,"label":"Match"},{"t":-24.6,"v":0.0037,"label":"Match"},{"t":-17.4,"v":0.0009,"label":"Match"},
{"t":-35.8,"v":-0.0108,"label":"Non-match"},{"t":-30.1,"v":-0.0119,"label":"Non-match"},{"t":-26.3,"v":-0.0131,"label":"Non-match"},{"t":-25.2,"v":-0.0131,"label":"Non-match"},{"t":-25.6,"v":-0.0165,"label":"Non-match"},{"t":-22.8,"v":-0.0165,"label":"Non-match"},{"t":-20.5,"v":-0.0187,"label":"Non-match"},{"t":-31.6,"v":-0.0194,"label":"Non-match"},{"t":-33.6,"v":-0.0225,"label":"Non-match"},{"t":-24.5,"v":-0.0229,"label":"Non-match"},{"t":-23.0,"v":-0.0247,"label":"Non-match"},{"t":-27.7,"v":-0.0286,"label":"Non-match"},{"t":-22.9,"v":-0.0314,"label":"Non-match"},{"t":-26.2,"v":-0.0374,"label":"Non-match"},{"t":-25.3,"v":-0.0409,"label":"Non-match"},{"t":-18.1,"v":-0.0250,"label":"Non-match"},{"t":-14.8,"v":-0.0326,"label":"Non-match"},{"t":-16.6,"v":-0.0377,"label":"Non-match"},{"t":-5.7,"v":-0.0480,"label":"Non-match"},{"t":6.6,"v":-0.0468,"label":"Non-match"},{"t":5.3,"v":-0.0449,"label":"Non-match"},{"t":-13.1,"v":-0.0433,"label":"Non-match"},
{"t":-20.5,"v":-0.0302,"label":"Match"},{"t":-18.1,"v":-0.0220,"label":"Match"},{"t":-4.9,"v":-0.0494,"label":"Match"},{"t":0.9,"v":-0.0459,"label":"Match"},{"t":8.8,"v":-0.0429,"label":"Match"},{"t":10.9,"v":-0.0380,"label":"Match"},{"t":9.7,"v":-0.0326,"label":"Match"},{"t":12.0,"v":-0.0332,"label":"Match"},{"t":15.3,"v":-0.0290,"label":"Match"},{"t":13.6,"v":-0.0244,"label":"Match"},{"t":15.2,"v":-0.0220,"label":"Match"},{"t":14.2,"v":-0.0185,"label":"Match"},{"t":-7.6,"v":-0.0273,"label":"Match"},{"t":-2.8,"v":-0.0321,"label":"Match"},{"t":-3.8,"v":-0.0375,"label":"Match"}
]},
"layer": [
  {"data": {"name": "points"},
   "mark": {"type": "point", "filled": true, "opacity": 1, "size": 50, "stroke": "white", "strokeWidth": 0.6},
   "encoding": {
     "x": {"field": "t", "type": "quantitative", "scale": {"domain": [-52.3, 122.1], "nice": false, "zero": false}, "axis": {"values": [-40, -20, 0, 20, 40, 60, 80, 100, 120], "title": "Normalized Response Time", "labelPadding": 9, "titlePadding": 5}},
     "y": {"field": "v", "type": "quantitative", "scale": {"domain": [-0.0531, 0.0371], "nice": false, "zero": false}, "axis": {"values": [-0.04, -0.02, 0, 0.02], "format": ".2f", "title": "LOUC (Acc) measure", "labelPadding": 14, "titlePadding": 9}},
     "color": {"field": "label", "type": "nominal", "scale": {"domain": ["Non-match", "Match"], "range": ["#1f77b4", "#ff7f0e"]}, "legend": {"title": "Real label"}},
     "shape": {"field": "label", "type": "nominal", "scale": {"domain": ["Non-match", "Match"], "range": ["circle", "M-0.565,-1.13L0,-0.565L0.565,-1.13L1.13,-0.565L0.565,0L1.13,0.565L0.565,1.13L0,0.565L-0.565,1.13L-1.13,0.565L-0.565,0L-1.13,-0.565Z"]}, "legend": {"title": "Real label"}}
   }},
  {"data": {"name": "refs"}, "mark": {"type": "rule", "color": "#c44e52", "strokeWidth": 1.5}, "encoding": {"x": {"field": "ref", "type": "quantitative"}}},
  {"data": {"name": "refs"}, "mark": {"type": "rule", "color": "#c44e52", "strokeWidth": 1.5}, "encoding": {"y": {"field": "ref", "type": "quantitative"}}}
]
}
